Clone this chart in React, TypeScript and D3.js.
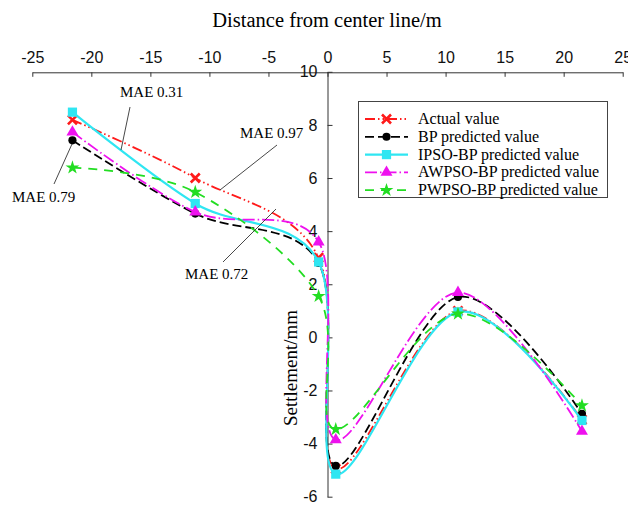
import React, { useEffect, useRef } from "react";
import * as d3 from "d3";

// distance from center line (m) of the six monitoring points
const distances = [-21.6, -11.2, -0.75, 0.7, 11.05, 21.55];

const actualValues = [8.19, 6.0, 3.0, -4.95, 1.0, -3.1];
const bpValues = [7.42, 4.66, 2.8, -4.84, 1.52, -2.88];
const ipsoValues = [8.48, 5.04, 2.84, -5.15, 0.96, -3.13];
const awpsoValues = [7.73, 4.72, 3.59, -3.86, 1.69, -3.54];
const pwpsoValues = [6.39, 5.47, 1.55, -3.46, 0.89, -2.57];

const seriesNames = [
  "Actual value",
  "BP predicted value",
  "IPSO-BP predicted value",
  "AWPSO-BP predicted value",
  "PWPSO-BP predicted value",
];

const xTicks = [-25, -20, -15, -10, -5, 0, 5, 10, 15, 20, 25];
const yTicks = [-6, -4, -2, 0, 2, 4, 6, 8, 10];

const maeNotes = ["MAE 0.31", "MAE 0.97", "MAE 0.79", "MAE 0.72"];

const SERIF = "'Liberation Serif', 'Times New Roman', serif";
const SANS = "'Liberation Sans', Arial, sans-serif";

type Style = {
  color: string;
  dash: string | null;
  width: number;
  marker: "x" | "circle" | "square" | "triangle" | "star";
};

const styles: Style[] = [
  { color: "#ff1a1a", dash: "10,3,1.5,3,1.5,3", width: 1.8, marker: "x" },
  { color: "#000000", dash: "9,4", width: 1.8, marker: "circle" },
  { color: "#2fe6f2", dash: null, width: 2.2, marker: "square" },
  { color: "#ee11ee", dash: "12,3,1.5,3", width: 1.8, marker: "triangle" },
  { color: "#22dd22", dash: "9,7", width: 1.8, marker: "star" },
];

const drawMarker = (g: any, kind: string, cx: number, cy: number, color: string) => {
  if (kind === "x") {
    const s = 4.5;
    g.append("path")
      .attr("d", `M${cx - s},${cy - s}L${cx + s},${cy + s}M${cx - s},${cy + s}L${cx + s},${cy - s}`)
      .attr("stroke", color)
      .attr("stroke-width", 2.6)
      .attr("fill", "none");
    return;
  }
  const sym =
    kind === "circle"
      ? d3.symbolCircle
      : kind === "square"
      ? d3.symbolSquare
      : kind === "triangle"
      ? d3.symbolTriangle
      : d3.symbolStar;
  const size = kind === "circle" ? 52 : kind === "square" ? 85 : kind === "triangle" ? 62 : 60;
  g.append("path")
    .attr("d", d3.symbol().type(sym).size(size)())
    .attr("transform", `translate(${cx},${cy})`)
    .attr("fill", color);
};

const App = () => {
  const svgRef = useRef<SVGSVGElement>(null);

  useEffect(() => {
    const svg = d3.select(svgRef.current);
    svg.selectAll("*").remove();

    const x = d3.scaleLinear().domain([-25, 25]).range([32.3, 622.7]);
    const y = d3.scaleLinear().domain([-6, 10]).range([496.7, 71.8]);

    // top axis
    const xAxis = svg
      .append("g")
      .attr("transform", `translate(0,${y(10) + 0.5})`)
      .call(
        d3
          .axisTop(x)
          .tickValues(xTicks)
          .tickSizeInner(-4.5)
          .tickSizeOuter(0)
          .tickPadding(9)
          .tickFormat((d: any) => String(d))
      );
    xAxis.select(".domain").attr("stroke", "#333");
    xAxis.selectAll(".tick line").attr("stroke", "#333");
    xAxis
      .selectAll("text")
      .attr("font-family", SANS)
      .attr("font-size", 16)
      .attr("fill", "#111");

    // y axis through x = 0
    const yAxis = svg
      .append("g")
      .attr("transform", `translate(${x(0)},0)`)
      .call(
        d3
          .axisLeft(y)
          .tickValues(yTicks)
          .tickSizeInner(-5)
          .tickSizeOuter(0)
          .tickPadding(10)
          .tickFormat((d: any) => String(d))
      );
    yAxis.select(".domain").attr("stroke", "#333");
    yAxis.selectAll(".tick line").attr("stroke", "#333");
    yAxis
      .selectAll("text")
      .attr("font-family", SANS)
      .attr("font-size", 16)
      .attr("fill", "#111");

    svg
      .append("text")
      .attr("x", 327)
      .attr("y", 27)
      .attr("text-anchor", "middle")
      .attr("font-family", SERIF)
      .attr("font-size", 20.5)
      .text("Distance from center line/m");

    svg
      .append("text")
      .attr("transform", "translate(297,368) rotate(-90)")
      .attr("text-anchor", "middle")
      .attr("font-family", SERIF)
      .attr("font-size", 19)
      .text("Settlement/mm");

    // series
    const allValues = [actualValues, bpValues, ipsoValues, awpsoValues, pwpsoValues];
    const line = d3
      .line<number>()
      .x((_d, i) => x(distances[i]))
      .y((d) => y(d))
      .curve(d3.curveCardinal.tension(0));

    allValues.forEach((vals, si) => {
      const st = styles[si];
      const g = svg.append("g");
      g.append("path")
        .attr("d", line(vals))
        .attr("fill", "none")
        .attr("stroke", st.color)
        .attr("stroke-width", st.width)
        .attr("stroke-dasharray", st.dash);
      vals.forEach((v, i) => drawMarker(g, st.marker, x(distances[i]), y(v), st.color));
    });

    // MAE annotations
    const notes = svg.append("g").attr("font-family", SERIF).attr("font-size", 15);
    const notePos = [
      [120, 97],
      [240, 138],
      [12, 202],
      [185, 279],
    ];
    const leaders = [
      [130, 107, 121, 150],
      [277, 145, 220, 190],
      [72, 144, 54, 184],
      [223, 262, 276, 209],
    ];
    maeNotes.forEach((t, i) => {
      notes.append("text").attr("x", notePos[i][0]).attr("y", notePos[i][1]).text(t);
      notes
        .append("line")
        .attr("x1", leaders[i][0])
        .attr("y1", leaders[i][1])
        .attr("x2", leaders[i][2])
        .attr("y2", leaders[i][3])
        .attr("stroke", "#333")
        .attr("stroke-width", 0.9);
    });

    // legend
    const lg = svg.append("g");
    lg.append("rect")
      .attr("x", 358.5)
      .attr("y", 101.5)
      .attr("width", 249)
      .attr("height", 96)
      .attr("fill", "#fff")
      .attr("stroke", "#444")
      .attr("stroke-width", 1);
    seriesNames.forEach((name, i) => {
      const st = styles[i];
      const cy = 119 + i * 17.8;
      lg.append("line")
        .attr("x1", 365)
        .attr("x2", 408)
        .attr("y1", cy)
        .attr("y2", cy)
        .attr("stroke", st.color)
        .attr("stroke-width", st.width)
        .attr("stroke-dasharray", st.dash);
      drawMarker(lg, st.marker, 386.5, cy, st.color);
      lg.append("text")
        .attr("x", 418)
        .attr("y", cy + 5)
        .attr("font-family", SERIF)
        .attr("font-size", 16)
        .text(name);
    });
  }, []);

  return (
    <svg
      ref={svgRef}
      width={628}
      height={506}
      style={{ position: "absolute", left: 0, top: 0, background: "#fff" }}
    />
  );
};

export default App;
